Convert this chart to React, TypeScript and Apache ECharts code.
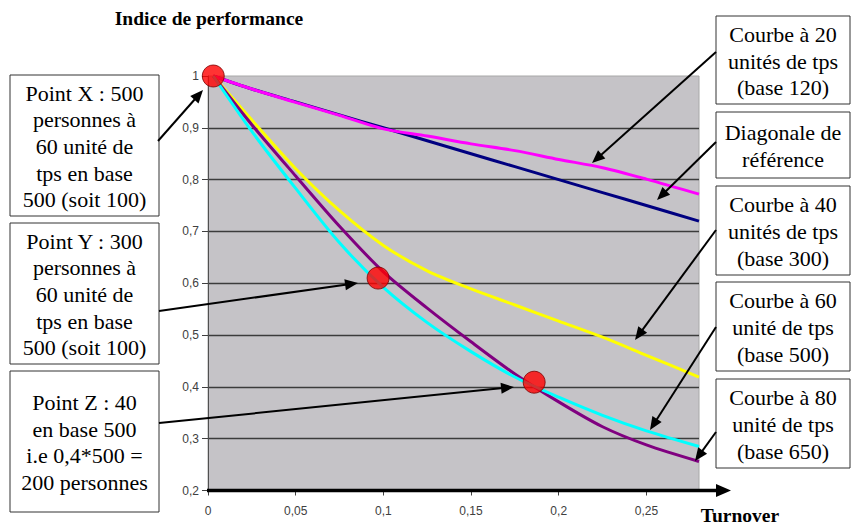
import React, { useEffect, useRef } from "react";
import * as echarts from "echarts";

// ---- data ----
const xTickValues = [0, 0.05, 0.1, 0.15, 0.2, 0.25];
const turnover = [0.003, 0.025, 0.05, 0.075, 0.1, 0.125, 0.15, 0.175, 0.2, 0.225, 0.25, 0.28];
const courbe20 = [1, 0.975, 0.949, 0.924, 0.898, 0.884, 0.869, 0.856, 0.839, 0.823, 0.801, 0.772];
const diagonale = [1, 0.975, 0.95, 0.925, 0.9, 0.875, 0.85, 0.825, 0.8, 0.775, 0.75, 0.72];
const courbe40 = [1, 0.915, 0.821, 0.74, 0.673, 0.624, 0.589, 0.558, 0.527, 0.496, 0.461, 0.419];
const courbe60 = [1, 0.893, 0.783, 0.678, 0.592, 0.524, 0.468, 0.419, 0.38, 0.345, 0.315, 0.285];
const courbe80 = [1, 0.906, 0.807, 0.71, 0.622, 0.552, 0.487, 0.425, 0.371, 0.323, 0.288, 0.256];
const pointsX = [0.003, 0.097, 0.186];
const pointsY = [1, 0.61, 0.409];

const leftNotes = [
  ["Point X : 500", "personnes à", "60 unité de", "tps en base", "500 (soit 100)"],
  ["Point Y : 300", "personnes à", "60 unité de", "tps en base", "500 (soit 100)"],
  ["Point Z : 40", "en base 500", "i.e 0,4*500 =", "200 personnes"],
];
const rightNotes = [
  ["Courbe à 20", "unités de tps", "(base 120)"],
  ["Diagonale de", "référence"],
  ["Courbe à 40", "unités de tps", "(base 300)"],
  ["Courbe à 60", "unité de tps", "(base 500)"],
  ["Courbe à 80", "unité de tps", "(base 650)"],
];
const yTitle = "Indice de performance";
const xTitle = "Turnover";

const pair = (xs: number[], ys: number[]) => xs.map((x, i) => [x, ys[i]]);
const fmt = (v: number) => String(Math.round(v * 100) / 100).replace(".", ",");

const SERIF = "'Liberation Serif', 'Times New Roman', serif";
const SANS = "'Liberation Sans', Arial, sans-serif";

function textEl(x: number, y: number, text: string, size: number, bold = false) {
  return {
    type: "text",
    z: 101,
    x,
    y,
    style: {
      text,
      fill: "#000",
      font: (bold ? "bold " : "") + size + "px " + SERIF,
      fontFamily: SERIF,
      fontSize: size,
      fontWeight: bold ? "bold" : "normal",
      align: "center",
      verticalAlign: "middle",
      textAlign: "center",
      textVerticalAlign: "middle",
    },
  };
}

function arrow(x1: number, y1: number, x2: number, y2: number, headLen = 13, headW = 5.5, lw = 2) {
  const dx = x2 - x1, dy = y2 - y1;
  const L = Math.hypot(dx, dy);
  const ux = dx / L, uy = dy / L;
  const bx = x2 - ux * headLen, by = y2 - uy * headLen;
  const px = -uy, py = ux;
  return [
    { type: "line", z: 100, shape: { x1, y1, x2: bx + ux * 2, y2: by + uy * 2 }, style: { stroke: "#000", lineWidth: lw } },
    {
      type: "polygon",
      z: 100,
      shape: { points: [[x2, y2], [bx + px * headW, by + py * headW], [bx - px * headW, by - py * headW]] },
      style: { fill: "#000" },
    },
  ];
}

function box(x: number, y: number, w: number, h: number, lines: string[]) {
  const lh = 26.7;
  const cy = y + h / 2 + 1;
  const out: any[] = [
    { type: "rect", z: 100, shape: { x, y, width: w, height: h }, style: { fill: "#fff", stroke: "#333", lineWidth: 1 } },
  ];
  lines.forEach((t, i) => out.push(textEl(x + w / 2, cy + (i - (lines.length - 1) / 2) * lh, t, 22)));
  return out;
}

export default function App() {
  const ref = useRef<HTMLDivElement>(null);
  useEffect(() => {
    if (!ref.current) return;
    const chart = echarts.init(ref.current, null, { renderer: "svg" });

    const leftBoxes = [
      [10, 75, 149, 141],
      [10, 223, 149, 141],
      [10, 371, 149, 141],
    ];
    const rightBoxes = [
      [716, 16, 134, 88],
      [716, 112, 134, 66],
      [716, 186, 134, 89],
      [716, 282, 134, 89],
      [716, 379, 134, 89],
    ];
    const arrows = [
      [158, 141, 203, 90],
      [159, 311, 358, 283],
      [159, 423, 514, 387],
      [716, 52, 592, 163],
      [716, 142, 657, 200],
      [716, 230, 635, 340],
      [716, 327, 650, 430],
      [716, 432, 695, 461],
    ];

    const graphic: any[] = [];
    leftBoxes.forEach((b, i) => graphic.push(...box(b[0], b[1], b[2], b[3], leftNotes[i])));
    rightBoxes.forEach((b, i) => graphic.push(...box(b[0], b[1], b[2], b[3], rightNotes[i])));
    arrows.forEach((a) => graphic.push(...arrow(a[0], a[1], a[2], a[3])));
    // x axis with arrow
    graphic.push({ type: "line", z: 90, shape: { x1: 207, y1: 490.5, x2: 719, y2: 490.5 }, style: { stroke: "#000", lineWidth: 3.5 } });
    graphic.push({ type: "polygon", z: 90, shape: { points: [[731, 490.5], [716, 484], [716, 497]] }, style: { fill: "#000" } });
    graphic.push(textEl(209, 18, yTitle, 19.5, true));
    graphic.push(textEl(740, 515, xTitle, 19.5, true));

    const lineSeries = (name: string, data: number[], color: string, width = 3) => ({
      name,
      type: "line",
      data: pair(turnover, data),
      showSymbol: false,
      smooth: 0.3,
      clip: false,
      lineStyle: { color, width },
      z: 3,
    });

    chart.setOption({
      animation: false,
      grid: { left: 208, top: 76, right: 153, bottom: 33.5, show: true, backgroundColor: "#c5c3c7", borderWidth: 1, borderColor: "#a8a8a8" },
      xAxis: {
        type: "value",
        min: 0,
        max: 0.28,
        interval: 0.05,
        axisLine: { show: false },
        axisTick: { show: true, length: 5, customValues: xTickValues, lineStyle: { color: "#404040" } },
        splitLine: { show: false },
        axisLabel: { customValues: xTickValues, formatter: (v: number) => fmt(v), margin: 14, color: "#404040", fontFamily: SANS, fontSize: 12 },
      },
      yAxis: {
        type: "value",
        min: 0.2,
        max: 1,
        interval: 0.1,
        axisLine: { show: true, lineStyle: { color: "#505050", width: 1 } },
        axisTick: { show: true, length: 6, lineStyle: { color: "#404040" } },
        splitLine: { show: true, showMinLine: false, showMaxLine: false, lineStyle: { color: "#3c3c3c", width: 1.3 } },
        axisLabel: { formatter: (v: number) => fmt(v), margin: 9, color: "#404040", fontFamily: SANS, fontSize: 12 },
      },
      series: [
        lineSeries("Diagonale de référence", diagonale, "#000080", 3),
        lineSeries("Courbe à 20", courbe20, "#ff00ff", 3),
        lineSeries("Courbe à 40", courbe40, "#ffff00", 3),
        lineSeries("Courbe à 80", courbe80, "#800080", 3),
        lineSeries("Courbe à 60", courbe60, "#00ffff", 3),
        {
          name: "Points",
          type: "scatter",
          data: pair(pointsX, pointsY),
          symbolSize: 22,
          clip: false,
          itemStyle: { color: "#ff0000", borderColor: "#7a0000", borderWidth: 1 },
          z: 10,
        },
      ],
      graphic,
    });
    return () => chart.dispose();
  }, []);
  return <div ref={ref} style={{ position: "absolute", left: 0, top: 0, width: 852, height: 524 }} />;
}
